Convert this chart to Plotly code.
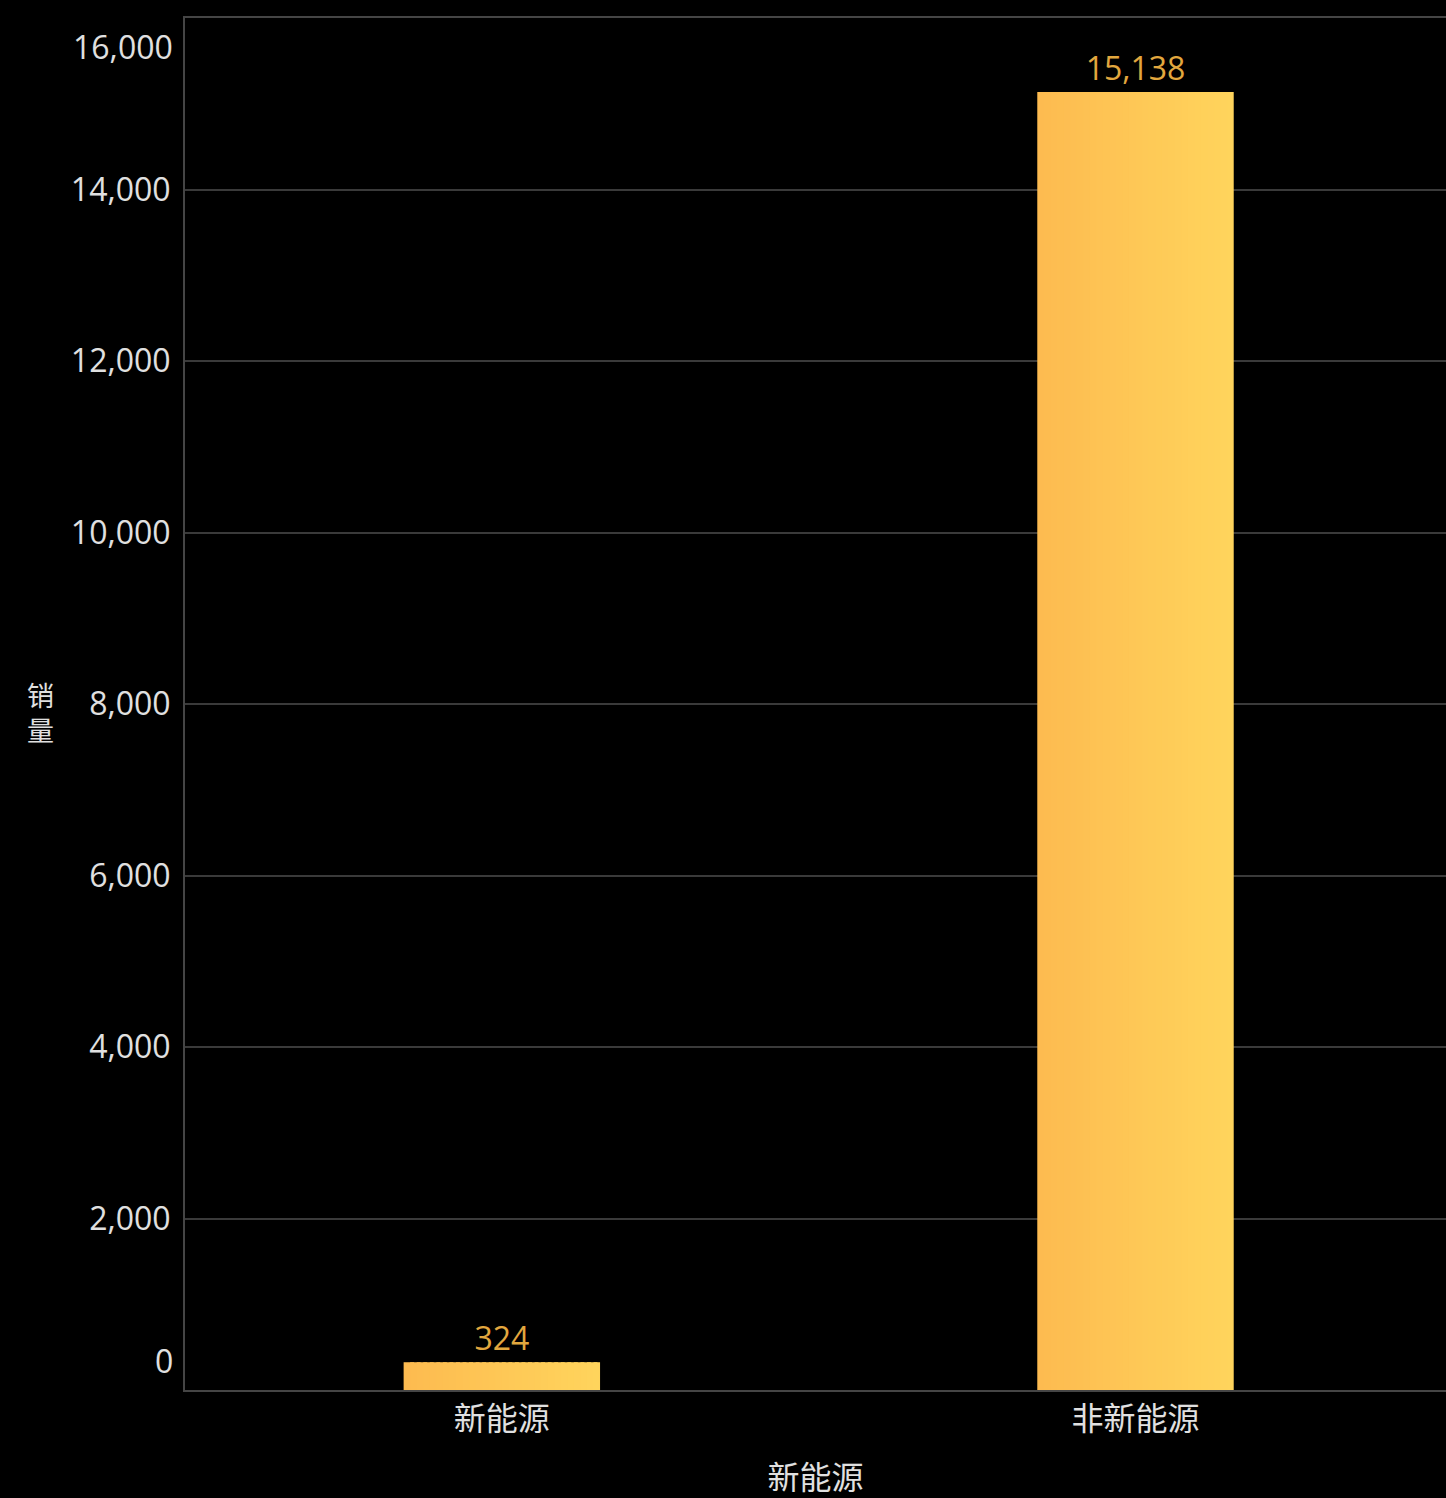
import plotly.graph_objects as go

categories = ["新能源", "非新能源"]
sales = [324, 15138]
tick_values = [0, 2000, 4000, 6000, 8000, 10000, 12000, 14000, 16000]
tick_labels = ["0", "2,000", "4,000", "6,000", "8,000", "10,000", "12,000", "14,000", "16,000"]
x_title = "新能源"
y_title = "销量"

FONT = "Open Sans, Noto Sans CJK SC, sans-serif"
TXT = "#e0e0e0"
BAR_W = 0.31
N = 30
c0 = (253, 187, 80)
c1 = (255, 212, 92)

fig = go.Figure()
step = BAR_W / N
for i in range(N):
    t = i / (N - 1)
    col = tuple(round(a + (b - a) * t) for a, b in zip(c0, c1))
    w = step * (1.6 if i < N - 1 else 1.0)
    fig.add_trace(go.Bar(
        x=categories, y=sales, width=w, offset=-BAR_W / 2 + i * step,
        marker=dict(color="rgb(%d,%d,%d)" % col, line=dict(width=0)),
        showlegend=False, hoverinfo="skip",
    ))
fig.add_trace(go.Bar(
    x=categories, y=sales, width=BAR_W,
    marker=dict(color="rgba(0,0,0,0)", line=dict(width=0)),
    text=["{:,}".format(v) for v in sales], texttemplate="%{text}",
    textposition="outside", cliponaxis=False,
    textfont=dict(color="#E2A73E", size=32, family=FONT),
    showlegend=False,
))

shown = [lab if v not in (tick_values[0], tick_values[-1]) else "" for v, lab in zip(tick_values, tick_labels)]

annotations = [
    dict(text=tick_labels[0], x=0, xref="paper", y=tick_values[0], yref="y",
         xanchor="right", yanchor="middle", xshift=-10, yshift=30, showarrow=False,
         font=dict(size=32, color=TXT, family=FONT)),
    dict(text=tick_labels[-1], x=0, xref="paper", y=tick_values[-1], yref="y",
         xanchor="right", yanchor="middle", xshift=-10, yshift=-28, showarrow=False,
         font=dict(size=32, color=TXT, family=FONT)),
    dict(text="<br>".join(list(y_title)), x=0, xref="paper", y=0.4934, yref="paper",
         xanchor="center", yanchor="middle", xshift=-145, showarrow=False,
         font=dict(size=27, color=TXT, family=FONT)),
]

fig.update_layout(
    width=1446, height=1498, autosize=False,
    paper_bgcolor="black", plot_bgcolor="black",
    barmode="overlay",
    margin=dict(l=185, r=0, t=18, b=108),
    font=dict(family=FONT, color=TXT, size=32),
    xaxis=dict(
        range=[-0.5, 1.49], showgrid=False, showline=True, mirror=True,
        linecolor="#454545", linewidth=2,
        ticks="", tickfont=dict(size=32, color=TXT),
        title=dict(text=x_title, standoff=34, font=dict(size=32, color=TXT)),
    ),
    yaxis=dict(
        range=[0, 16000], tickvals=tick_values, ticktext=shown,
        showgrid=True, gridcolor="#3a3a3a", gridwidth=2,
        showline=True, linecolor="#454545", linewidth=2, zeroline=False,
        ticks="", ticklabelstandoff=6, tickfont=dict(size=32, color=TXT),
    ),
    annotations=annotations,
)

fig.write_html("out.html", config={"displayModeBar": False},
               post_script="document.body.style.margin='0';document.body.style.background='black';")
